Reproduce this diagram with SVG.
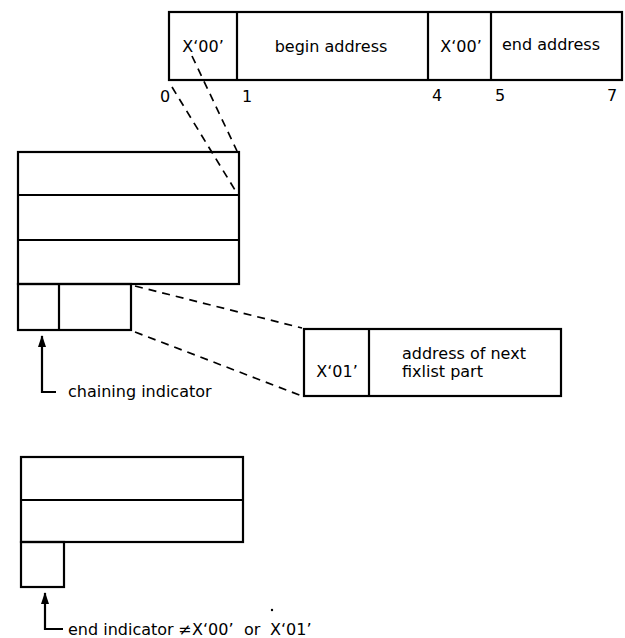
<svg xmlns="http://www.w3.org/2000/svg" width="625" height="638" viewBox="0 0 625 638">
<style>
.box{fill:none;stroke:#000;stroke-width:2.2}
.ln{fill:none;stroke:#000;stroke-width:2.2}
.dash{fill:none;stroke:#000;stroke-width:1.7;stroke-dasharray:8 6}
text{font-family:"DejaVu Sans",sans-serif;font-size:16px;fill:#000}
.c{text-anchor:middle}
</style>
<defs>
<marker id="ah" viewBox="0 0 12 8" refX="11" refY="4" markerWidth="12" markerHeight="8" orient="auto" markerUnits="userSpaceOnUse">
<path d="M0,0 L12,4 L0,8 z" fill="#000"/>
</marker>
</defs>
<rect width="625" height="638" fill="#fff"/>

<g id="fixlist-entry">
<rect class="box" x="169" y="12" width="453" height="68"/>
<line class="ln" x1="237" y1="12" x2="237" y2="80"/>
<line class="ln" x1="428" y1="12" x2="428" y2="80"/>
<line class="ln" x1="491" y1="12" x2="491" y2="80"/>
<text class="c" x="203" y="52">X‘00’</text>
<text class="c" x="331" y="52">begin address</text>
<text class="c" x="461" y="52">X‘00’</text>
<text class="c" x="551" y="50">end address</text>
<text x="160" y="102">0</text>
<text x="242" y="102">1</text>
<text x="432" y="101">4</text>
<text x="495" y="101">5</text>
<text x="607" y="101">7</text>
</g>

<g id="fixlist-part-1">
<rect class="box" x="18" y="152" width="221" height="132"/>
<line class="ln" x1="18" y1="195" x2="239" y2="195"/>
<line class="ln" x1="18" y1="240" x2="239" y2="240"/>
<rect class="box" x="18" y="284" width="113" height="46"/>
<line class="ln" x1="59" y1="284" x2="59" y2="330"/>
</g>

<g id="chain-entry">
<rect class="box" x="304" y="329" width="257" height="67"/>
<line class="ln" x1="369" y1="329" x2="369" y2="396"/>
<text class="c" x="337" y="377">X‘01’</text>
<text x="402" y="359">address of next</text>
<text x="402" y="377">fixlist part</text>
</g>

<g id="fixlist-part-2">
<rect class="box" x="21" y="457" width="222" height="85"/>
<line class="ln" x1="21" y1="500" x2="243" y2="500"/>
<rect class="box" x="21" y="542" width="43" height="45"/>
</g>

<g id="labels">
<text x="68" y="397">chaining indicator</text>
<text y="635"><tspan x="68">end indicator</tspan><tspan x="178">≠</tspan><tspan x="192">X‘00’</tspan><tspan x="244">or</tspan><tspan x="270">X‘01’</tspan></text>
<circle cx="272" cy="610" r="1.2" fill="#000"/>
</g>

<g id="connectors">
<line class="dash" x1="192" y1="56" x2="237" y2="151"/>
<line class="dash" x1="172" y1="87" x2="235" y2="190"/>
<line class="dash" x1="135" y1="286" x2="302" y2="328"/>
<line class="dash" x1="135" y1="332" x2="302" y2="396"/>
<path class="ln" d="M56,392 H42 V336" marker-end="url(#ah)"/>
<path class="ln" d="M63,629 H45 V593" marker-end="url(#ah)"/>
</g>
</svg>
